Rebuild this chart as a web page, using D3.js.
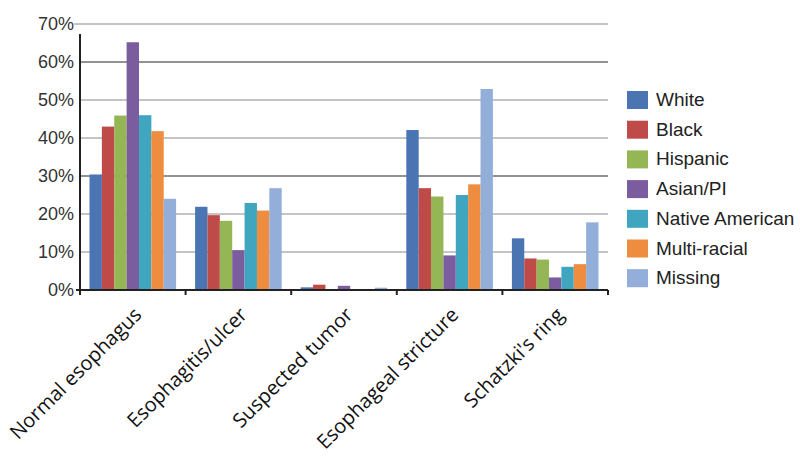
<!DOCTYPE html>
<html>
<head>
<meta charset="utf-8">
<script src="https://cdn.jsdelivr.net/npm/d3@7"></script>
<style>
  body { margin: 0; background: #fff; }
  svg { display: block; }
</style>
</head>
<body>
<div id="chart"></div>
<script>
// Categories along the x axis.
const categories = ["Normal esophagus", "Esophagitis/ulcer", "Suspected tumor", "Esophageal stricture", "Schatzki's ring"];

// Series names and colours.
const groups = ["White", "Black", "Hispanic", "Asian/PI", "Native American", "Multi-racial", "Missing"];
const colors = ["#4a74b2", "#be4b48", "#95b655", "#7b5c9e", "#40a6c0", "#ee8c40", "#93afd9"];

// Percent values, one array per category, in the order of groups.
const normalEsophagus = [30.4, 43.0, 45.9, 65.2, 46.0, 41.8, 24.0];
const esophagitisUlcer = [21.9, 19.7, 18.2, 10.5, 22.9, 20.9, 26.8];
const suspectedTumor = [0.7, 1.4, 0, 1.1, 0, 0, 0.6];
const esophagealStricture = [42.1, 26.8, 24.6, 9.1, 25.0, 27.8, 52.9];
const schatzkisRing = [13.6, 8.3, 8.0, 3.3, 6.1, 6.8, 17.8];
const values = [normalEsophagus, esophagitisUlcer, suspectedTumor, esophagealStricture, schatzkisRing];

// Y axis ticks.
const yTicks = [0, 10, 20, 30, 40, 50, 60, 70];

// Make dimensions for the graph.
let width = 800, height = 462;
let plot = { left: 80, right: 608, top: 24, bottom: 290 };

let svg = d3.select("#chart")
    .append("svg")
    .attr("width", width)
    .attr("height", height);

// Scales.
let x = d3.scaleBand()
    .domain(categories)
    .range([plot.left, plot.right])
    .paddingInner(0.18)
    .paddingOuter(0.09);

let xSub = d3.scaleBand()
    .domain(groups)
    .range([0, x.bandwidth()]);

let y = d3.scaleLinear()
    .domain([0, 70])
    .range([plot.bottom, plot.top]);

let color = d3.scaleOrdinal().domain(groups).range(colors);

// Gridlines (the scan shows some darker than others).
svg.append("g")
    .selectAll("line")
    .data(yTicks.filter(d => d > 0))
    .enter()
    .append("line")
    .attr("x1", d => d === 70 ? plot.left - 6 : plot.left)
    .attr("x2", plot.right)
    .attr("y1", d => y(d))
    .attr("y2", d => y(d))
    .attr("stroke", d => (d === 60 || d === 30) ? "#6e6e6e" : "#b0b0b0")
    .attr("stroke-width", 1.5);

// Y axis labels.
svg.append("g")
    .selectAll("text")
    .data(yTicks)
    .enter()
    .append("text")
    .attr("x", 74)
    .attr("y", d => y(d))
    .attr("dy", "0.36em")
    .attr("text-anchor", "end")
    .style("font-family", "'Liberation Sans', Arial, sans-serif")
    .style("font-size", "18px")
    .style("fill", "#333")
    .text(d => d + "%");

// Bars.
svg.append("g")
    .selectAll("g")
    .data(categories)
    .enter()
    .append("g")
    .attr("transform", d => "translate(" + x(d) + ",0)")
    .selectAll("rect")
    .data((d, i) => groups.map((g, j) => ({ group: g, value: values[i][j] })))
    .enter()
    .append("rect")
    .attr("x", d => xSub(d.group))
    .attr("width", xSub.bandwidth())
    .attr("y", d => y(d.value))
    .attr("height", d => y(0) - y(d.value))
    .attr("fill", d => color(d.group));

// Y axis line.
svg.append("line")
    .attr("x1", plot.left).attr("x2", plot.left)
    .attr("y1", 34).attr("y2", plot.bottom)
    .attr("stroke", "#222")
    .attr("stroke-width", 2);

// X axis with ticks between categories.
let xAxis = svg.append("g");
xAxis.append("line")
    .attr("x1", plot.left - 4).attr("x2", plot.right)
    .attr("y1", plot.bottom).attr("y2", plot.bottom)
    .attr("stroke", "#222")
    .attr("stroke-width", 2);
let step = x.step();
xAxis.selectAll("line.tick")
    .data(d3.range(categories.length + 1))
    .enter()
    .append("line")
    .attr("class", "tick")
    .attr("x1", i => plot.left + i * step)
    .attr("x2", i => plot.left + i * step)
    .attr("y1", plot.bottom)
    .attr("y2", plot.bottom + 5)
    .attr("stroke", "#222")
    .attr("stroke-width", 2);

// Rotated category labels.
svg.append("g")
    .selectAll("text")
    .data(categories)
    .enter()
    .append("text")
    .attr("transform", d => "translate(" + (x(d) + x.bandwidth() / 2 + 10) + "," + 316 + ") rotate(-45)")
    .attr("text-anchor", "end")
    .style("font-family", "'Open Sans', sans-serif")
    .style("font-size", "20px")
    .style("fill", "#111")
    .text(d => d);

// Legend.
let legend = svg.append("g")
    .selectAll("g")
    .data(groups)
    .enter()
    .append("g")
    .attr("transform", (d, i) => "translate(627," + (91 + i * 29.7) + ")");

legend.append("rect")
    .attr("width", 21)
    .attr("height", 18)
    .attr("fill", d => color(d));

legend.append("text")
    .attr("x", 29)
    .attr("y", 15)
    .style("font-family", "'Liberation Sans', Arial, sans-serif")
    .style("font-size", "19px")
    .style("fill", "#222")
    .text(d => d);
</script>
</body>
</html>
